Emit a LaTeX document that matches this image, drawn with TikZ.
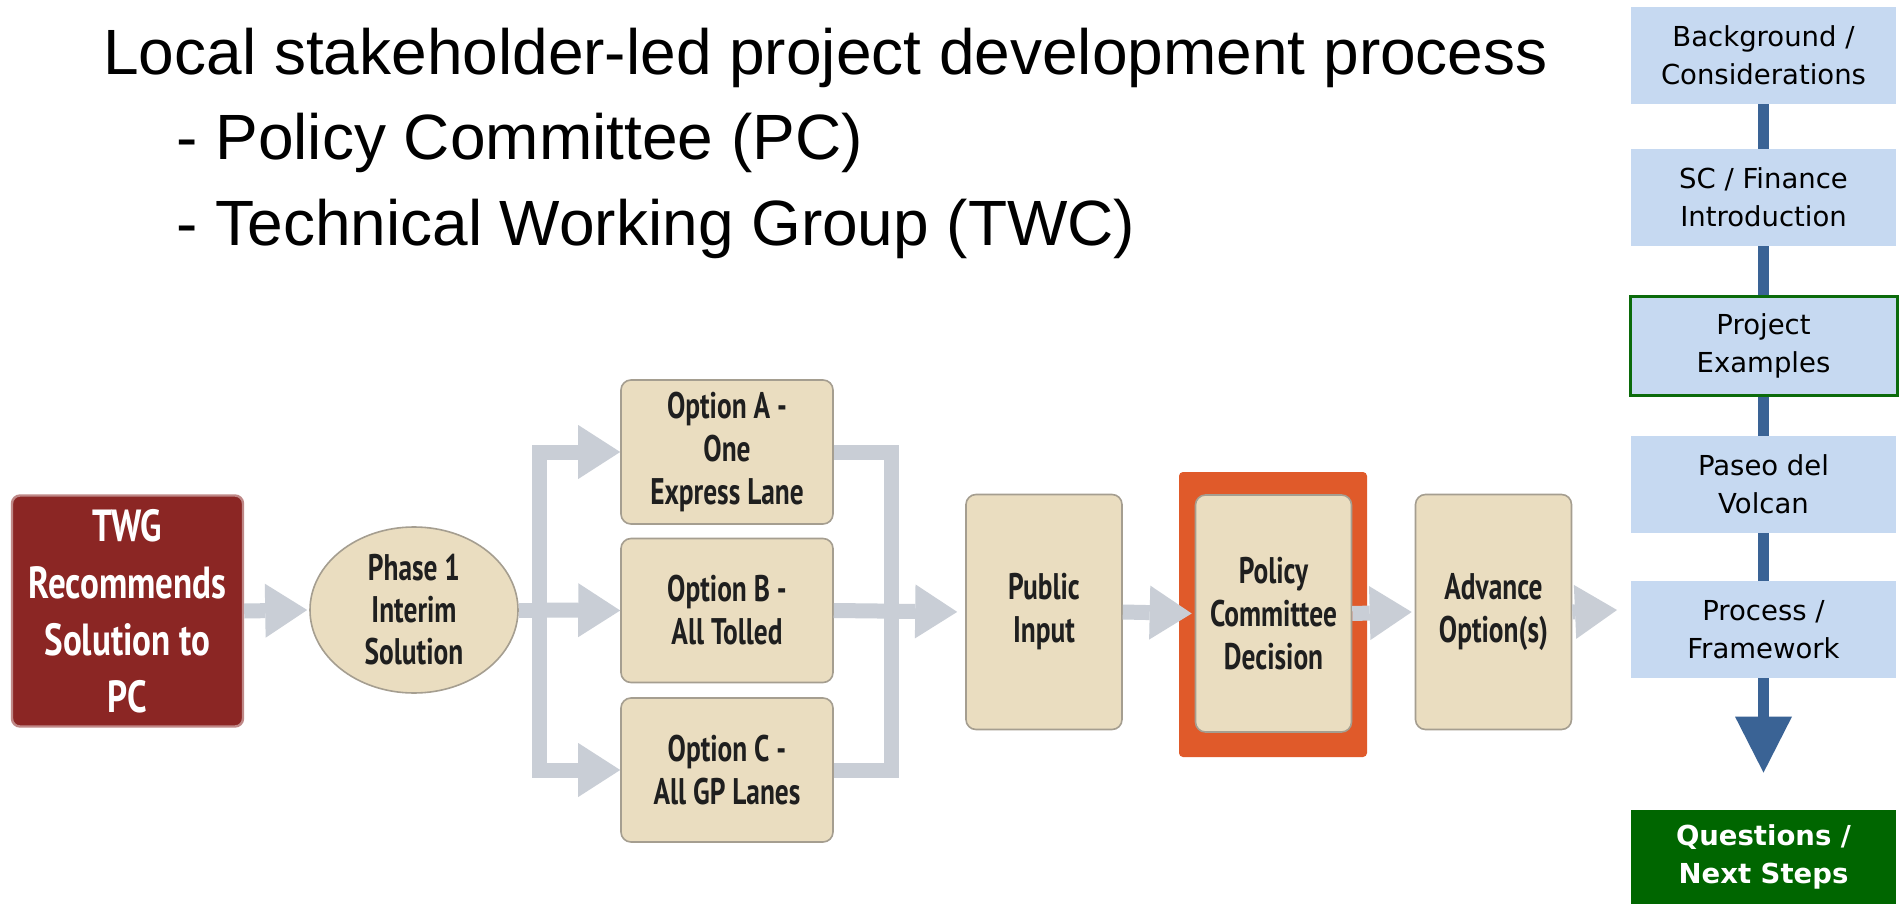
\documentclass[tikz,border=0pt]{standalone}
\usepackage{fontspec}
\setmainfont{Liberation Sans}
\newfontfamily\condfont[FakeStretch=0.74]{PT Sans}
\newfontfamily\twgfont[FakeStretch=0.78]{PT Sans}
\newfontfamily\sidefont{DejaVu Sans}
\usetikzlibrary{arrows.meta,shapes.geometric}
\definecolor{twgred}{HTML}{8B2624}
\definecolor{beige}{HTML}{EADDC0}
\definecolor{beigeedge}{HTML}{A59E90}
\definecolor{flowgray}{HTML}{C9CED6}
\definecolor{pcorange}{HTML}{E05A2A}
\definecolor{sideblue}{HTML}{C6D9F1}
\definecolor{sidebar}{HTML}{3A6395}
\definecolor{sidegreen}{HTML}{006600}
\definecolor{framegreen}{HTML}{0B6B0B}
\tikzset{
  titletext/.style={anchor=base west, inner sep=0pt, font=\fontsize{32}{38}\selectfont},
  beigebox/.style={draw=beigeedge, line width=0.8pt, fill=beige, rounded corners=5pt,
    minimum width=78pt, minimum height=117.5pt, align=center, inner sep=0pt,
    text=black!88, font=\condfont\bfseries\fontsize{18.5}{21.5}\selectfont},
  optbox/.style={beigebox, minimum width=106pt, minimum height=72pt},
  twgbox/.style={draw=twgred!55!white, line width=1.2pt, fill=twgred, rounded corners=4pt,
    minimum width=115.5pt, minimum height=115.5pt, align=center, inner sep=0pt,
    text=white, font=\twgfont\bfseries\fontsize{22.5}{28.5}\selectfont},
  phaseell/.style={ellipse, draw=beigeedge, line width=0.8pt, fill=beige,
    minimum width=104pt, minimum height=83pt, align=center, inner sep=0pt,
    text=black!88, font=\condfont\bfseries\fontsize{18.5}{21}\selectfont},
  pcframe/.style={fill=pcorange, rounded corners=2pt, minimum width=94pt, minimum height=142.5pt, inner sep=0pt},
  flowline/.style={draw=flowgray, line width=7.5pt},
  flowarrow/.style={draw=flowgray, line width=7.5pt, -{Triangle[width=27pt,length=21pt,line width=0pt]}},
  sidebox/.style={fill=sideblue, minimum width=132.5pt, minimum height=48.5pt, align=center,
    inner sep=0pt, font=\sidefont\fontsize{13.75}{19}\selectfont},
  sideline/.style={draw=sidebar, line width=5.5pt},
}
\begin{document}
\begin{tikzpicture}[x=0.5pt,y=-0.5pt]
\useasboundingbox[fill=white] (0,0) rectangle (1902,904);
% title
\node[titletext] (title) at (103,75) {Local stakeholder-led project development process};
\node[titletext] (pcline) at (176,160) {- Policy Committee (PC)};
\node[titletext] (twcline) at (176,245) {- Technical Working Group (TWC)};
% flow nodes
\node[twgbox] (twg) at (127.5,611) {TWG\\Recommends\\Solution to\\PC};
\node[phaseell] (phase) at (414,610) {Phase 1\\Interim\\Solution};
\node[optbox] (optA) at (727,452) {Option A -\\One\\Express Lane};
\node[optbox] (optB) at (727,610.5) {Option B -\\All Tolled};
\node[optbox] (optC) at (727,770) {Option C -\\All GP Lanes};
\node[beigebox] (public) at (1044,612) {Public\\Input};
\node[pcframe] (frame) at (1273,614.5) {};
\node[beigebox, minimum height=118.5pt] (policy) at (1273.5,613.5) {Policy\\Committee\\Decision};
\node[beigebox] (advance) at (1493.5,612) {Advance\\Option(s)};
\coordinate (split) at (539,610);
\coordinate (merge) at (891,610);
\coordinate (flowend) at (1617,610);
% connectors
\draw[flowarrow] (twg.east) -- ([xshift=-1pt]phase.west);
\draw[flowline] (phase.east) -- ([xshift=4pt]split);
\draw[flowline, line cap=rect] (split |- optA.west) -- (split |- optC.west);
\draw[flowarrow] (split |- optA.west) -- (optA.west);
\draw[flowarrow] (split) -- (optB.west);
\draw[flowarrow] (split |- optC.west) -- (optC.west);
\draw[flowline] (optA.east) -- (merge |- optA.east);
\draw[flowline] (optC.east) -- (merge |- optC.east);
\draw[flowline, line cap=rect] (merge |- optA.east) -- (merge |- optC.east);
\draw[flowarrow, shorten >=4pt] (optB.east) -- (public.west);
\draw[flowarrow] (public.east) -- ([xshift=-1.5pt]policy.west);
\draw[flowarrow] (policy.east) -- ([xshift=-1.5pt]advance.west);
\draw[flowarrow] (advance.east) -- (flowend);
% sidebar
\node[sidebox] (bg) at (1763.5,55.5) {Background /\\Considerations};
\node[sidebox] (sc) at (1763.5,197.5) {SC / Finance\\Introduction};
\node[sidebox, draw=framegreen, line width=1.5pt, minimum width=133.5pt, minimum height=49.5pt] (proj) at (1763.5,345.5) {Project\\Examples};
\node[sidebox] (paseo) at (1763.5,484.5) {Paseo del\\Volcan};
\node[sidebox] (process) at (1763.5,629.5) {Process /\\Framework};
\node[sidebox, fill=sidegreen, text=white, minimum height=47pt, font=\sidefont\bfseries\fontsize{13.75}{19}\selectfont] (questions) at (1763.5,857) {Questions /\\Next Steps};
\draw[sideline] (bg.south) -- (sc.north);
\draw[sideline] (sc.south) -- (proj.north);
\draw[sideline] (proj.south) -- (paseo.north);
\draw[sideline] (paseo.south) -- (process.north);
\draw[sideline, -{Triangle[width=28.5pt,length=28pt,line width=0pt]}, shorten >=18.5pt] (process.south) -- (questions.north);
\end{tikzpicture}
\end{document}
